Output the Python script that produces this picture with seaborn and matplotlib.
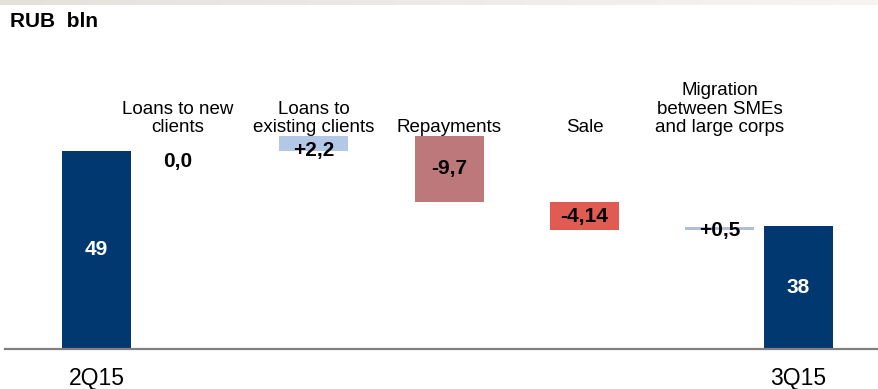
import numpy as np
import pandas as pd
import matplotlib
matplotlib.use("Agg")
import matplotlib.pyplot as plt
import seaborn as sns

# Waterfall data (RUB bln)
categories = ["2Q15", "Loans to new\nclients", "Loans to\nexisting clients",
              "Repayments", "Sale", "Migration\nbetween SMEs\nand large corps", "3Q15"]
start_value = 49
changes = [0.0, 2.2, -9.7, -4.14, 0.5]
end_value = 38
value_labels = ["49", "0,0", "+2,2", "-9,7", "-4,14", "+0,5", "38"]

# build the floating bars from the values
levels = start_value + np.cumsum([0] + changes)
lows = [0.0]
highs = [float(start_value)]
for prev, cur in zip(levels[:-1], levels[1:]):
    lows.append(min(prev, cur))
    highs.append(max(prev, cur))
lows.append(0.0)
highs.append(float(end_value))

# layout / style (not data)
x_pos = [96.5, 178, 313.5, 449.5, 584.5, 719.5, 798.5]
bar_colors = ["#00386F", "#B3C8E7", "#B3C8E7", "#BC787A", "#E05B52", "#B1BEDA", "#00386F"]
label_colors = ["white", "black", "black", "black", "black", "black", "white"]

df = pd.DataFrame({"pos": x_pos, "low": lows,
                   "height": np.array(highs) - np.array(lows)})

sns.set_theme(style="white")
plt.rcParams["font.family"] = ["Liberation Sans", "DejaVu Sans"]

W, H = 879, 389
fig = plt.figure(figsize=(W / 100, H / 100), dpi=100)

# thin grey band across the top
band = fig.add_axes([0, 1 - 5 / H, 1, 5 / H])
grad = np.linspace(0, 1, 256)
c0 = np.array([228, 225, 219]) / 255
c1 = np.array([246, 245, 242]) / 255
band.imshow((c0[None, :] * (1 - grad[:, None]) + c1[None, :] * grad[:, None])[None, :, :],
            aspect="auto", extent=[0, 1, 0, 1])
band.axis("off")

y0, y1 = 20, 65
px_per_unit = 6.818
ax_bottom = 348.5
ax_h = (y1 - y0) * px_per_unit
ax = fig.add_axes([5 / W, (H - ax_bottom) / H, 1 - 5 / W, ax_h / H])

sns.barplot(data=df, x="pos", y="height", native_scale=True, errorbar=None,
            width=69 / 79, saturation=1, color=bar_colors[0],
            bottom=df["low"].tolist(), linewidth=0, ax=ax)
for patch, c in zip(ax.patches, bar_colors):
    patch.set_facecolor(c)
    patch.set_edgecolor("none")

ax.set_xlim(5, W)
ax.set_ylim(y0, y1)
ax.set_xlabel("")
ax.set_ylabel("")
ax.set_yticks([])
ax.set_xticks([x_pos[0], x_pos[-1]])
ax.set_xticklabels([categories[0], categories[-1]], fontsize=16.5, color="black")
ax.tick_params(axis="x", length=0, pad=13)
for s in ["top", "left", "right"]:
    ax.spines[s].set_visible(False)
ax.spines["bottom"].set_color("#808080")
ax.spines["bottom"].set_linewidth(1.6)

# category labels above the middle steps
lab_y = (ax_bottom - 136) / ax_h
for i in range(1, len(categories) - 1):
    ax.text(x_pos[i], lab_y, categories[i], transform=ax.get_xaxis_transform(),
            ha="center", va="bottom", fontsize=13.5, linespacing=1.1, color="black")

# value labels
for i, txt in enumerate(value_labels):
    lo, hi = lows[i], highs[i]
    kw = dict(ha="center", fontsize=15, fontweight="bold", color=label_colors[i])
    if i in (0, len(value_labels) - 1):
        ax.text(x_pos[i], (max(lo, y0) + hi) / 2, txt, va="center", **kw)
    elif hi - lo == 0:
        ax.annotate(txt, (x_pos[i], hi), xytext=(0, -1), textcoords="offset points",
                    va="top", **kw)
    elif i > 0 and i - 1 < len(changes) and changes[i - 1] > 0:
        # increases: label sits on the starting level
        ax.text(x_pos[i], lo, txt, va="center", **kw)
    else:
        ax.text(x_pos[i], (lo + hi) / 2, txt, va="center", **kw)

fig.text(10 / W, 1 - 27 / H, "RUB  bln", ha="left", va="baseline",
         fontsize=15, fontweight="bold", color="black")

fig.savefig("out.png", dpi=100)
